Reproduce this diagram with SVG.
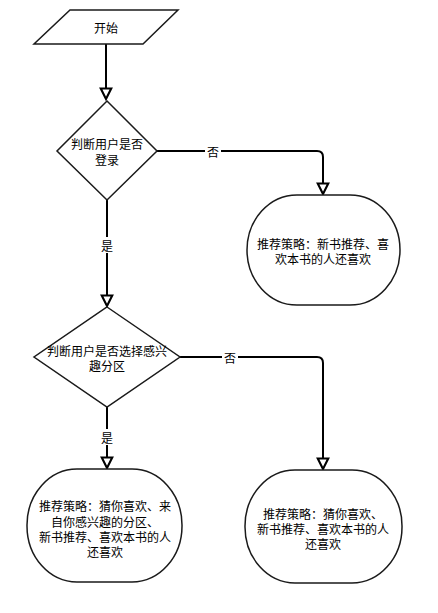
<svg xmlns="http://www.w3.org/2000/svg" width="438" height="613" viewBox="0 0 438 613">
<style>
.shape{fill:#fff;stroke:#1a1a1a;stroke-width:1.5}
.conn{fill:none;stroke:#000;stroke-width:2}
text{font-family:"Noto Sans CJK SC","Liberation Sans",sans-serif;font-size:12px;fill:#000;text-anchor:middle;dominant-baseline:central}
.lbl{fill:#fff;stroke:none}
</style>
<defs>
<marker id="arr" markerUnits="userSpaceOnUse" markerWidth="14" markerHeight="14" refX="10" refY="5" orient="auto" viewBox="0 0 12 10">
<path d="M1,0.5 L10,5 L1,9.5 Z" fill="#fff" stroke="#000" stroke-width="1.8"/>
</marker>
</defs>
<rect width="438" height="613" fill="#fff"/>
<g id="connectors">
<path class="conn" d="M106,44 V99" marker-end="url(#arr)"/>
<path class="conn" d="M157,151 H317 Q323,151 323,157 V194" marker-end="url(#arr)"/>
<path class="conn" d="M107,200 V306" marker-end="url(#arr)"/>
<path class="conn" d="M180,357 H317 Q323,357 323,363 V469" marker-end="url(#arr)"/>
<path class="conn" d="M107,407 V468" marker-end="url(#arr)"/>
<rect class="lbl" x="205" y="143" width="16" height="16"/>
<text x="213" y="151">否</text>
<rect class="lbl" x="99" y="237" width="16" height="16"/>
<text x="107" y="245">是</text>
<rect class="lbl" x="222" y="349" width="16" height="16"/>
<text x="230" y="357">否</text>
<rect class="lbl" x="99" y="429" width="16" height="16"/>
<text x="107" y="437">是</text>
</g>
<g id="start">
<polygon class="shape" points="70,10 178,10 143,44 34,44"/>
<text x="106" y="27">开始</text>
</g>
<g id="decision1">
<polygon class="shape" points="107,101 157,151 107,200 57,151"/>
<text x="107" y="143">判断用户是否</text>
<text x="107" y="159">登录</text>
</g>
<g id="result1">
<rect class="shape" x="247" y="195" width="153" height="110" rx="50" ry="55"/>
<text x="323" y="243">推荐策略：新书推荐、喜</text>
<text x="323" y="258">欢本书的人还喜欢</text>
</g>
<g id="decision2">
<polygon class="shape" points="107,307 180,357 107,407 34,357"/>
<text x="107" y="350">判断用户是否选择感兴</text>
<text x="107" y="365">趣分区</text>
</g>
<g id="result2">
<rect class="shape" x="27" y="469" width="155" height="113" rx="50" ry="56"/>
<text x="105" y="505">推荐策略：猜你喜欢、来</text>
<text x="105" y="521">自你感兴趣的分区、</text>
<text x="105" y="536">新书推荐、喜欢本书的人</text>
<text x="105" y="551">还喜欢</text>
</g>
<g id="result3">
<rect class="shape" x="245" y="470" width="157" height="113" rx="50" ry="56"/>
<text x="323" y="513">推荐策略：猜你喜欢、</text>
<text x="323" y="528">新书推荐、喜欢本书的人</text>
<text x="323" y="543">还喜欢</text>
</g>
</svg>
